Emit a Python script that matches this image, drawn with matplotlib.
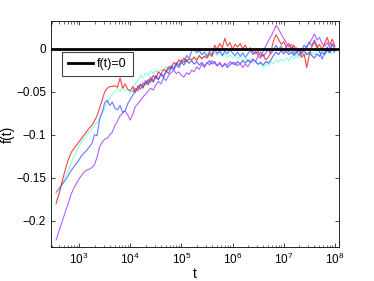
import numpy as np
import matplotlib
matplotlib.use('Agg')
import matplotlib.pyplot as plt

plt.rcParams['font.family'] = ['Liberation Sans', 'DejaVu Sans']
plt.rcParams['mathtext.fontset'] = 'custom'
plt.rcParams['mathtext.rm'] = 'Liberation Sans'

# log10(t) sampling grid, 2.55 .. 8.00 in steps of 0.05
logt = np.round(np.arange(2.55, 8.0001, 0.05), 2)

f_red = [
    -0.180, -0.170, -0.158, -0.147, -0.136, -0.127, -0.120, -0.116, -0.112, -0.108,
    -0.104, -0.100, -0.096, -0.092, -0.089, -0.084, -0.078, -0.069, -0.060, -0.050,
    -0.046, -0.044, -0.044, -0.043, -0.045, -0.034, -0.046, -0.041, -0.047, -0.049,
    -0.044, -0.051, -0.043, -0.047, -0.040, -0.042, -0.036, -0.039, -0.031, -0.035,
    -0.027, -0.030, -0.024, -0.026, -0.021, -0.023, -0.016, -0.019, -0.013, -0.016,
    -0.011, -0.015, -0.012, -0.013, -0.010, -0.014, -0.008, -0.012, -0.009, -0.011,
    -0.006, -0.009, 0.004, -0.001, 0.006, 0.001, 0.012, 0.003, 0.007, -0.001,
    0.005, 0.002, 0.006, 0.000, 0.004, -0.002, 0.001, -0.004, -0.006, -0.003,
    -0.009, -0.007, -0.013, -0.010, -0.004, 0.009, 0.016, 0.011, 0.005, 0.008,
    0.002, 0.006, 0.000, 0.004, -0.003, -0.001, -0.010, -0.006, -0.022, -0.008,
    0.002, 0.008, 0.001, 0.005, -0.001, 0.006, 0.013, 0.004, 0.011, 0.003,
]
f_cyan = [
    -0.177, -0.169, -0.161, -0.153, -0.146, -0.139, -0.132, -0.125, -0.119, -0.113,
    -0.108, -0.104, -0.100, -0.096, -0.093, -0.089, -0.086, -0.081, -0.075, -0.069,
    -0.063, -0.057, -0.053, -0.050, -0.046, -0.050, -0.044, -0.049, -0.047, -0.052,
    -0.046, -0.041, -0.037, -0.031, -0.034, -0.028, -0.031, -0.026, -0.029, -0.025,
    -0.028, -0.024, -0.026, -0.021, -0.024, -0.019, -0.022, -0.017, -0.020, -0.015,
    -0.012, -0.016, -0.010, -0.013, -0.009, -0.012, -0.008, -0.011, -0.007, -0.010,
    -0.006, -0.009, -0.005, -0.008, -0.004, -0.009, -0.006, -0.010, -0.007, -0.011,
    -0.008, -0.012, -0.009, -0.014, -0.011, -0.015, -0.012, -0.017, -0.014, -0.019,
    -0.016, -0.022, -0.018, -0.020, -0.015, -0.018, -0.013, -0.016, -0.012, -0.015,
    -0.011, -0.014, -0.009, -0.012, -0.008, -0.011, -0.007, -0.010, -0.005, -0.008,
    -0.004, -0.007, -0.002, -0.005, -0.001, -0.004, 0.000, -0.003, -0.006, -0.003,
]
f_blue = [
    -0.167, -0.163, -0.159, -0.155, -0.151, -0.146, -0.141, -0.137, -0.133, -0.129,
    -0.124, -0.121, -0.118, -0.114, -0.110, -0.100, -0.101, -0.082, -0.074, -0.063,
    -0.060, -0.066, -0.062, -0.069, -0.071, -0.066, -0.074, -0.072, -0.064, -0.059,
    -0.054, -0.049, -0.045, -0.041, -0.046, -0.037, -0.040, -0.033, -0.038, -0.031,
    -0.036, -0.030, -0.034, -0.027, -0.024, -0.020, -0.023, -0.016, -0.019, -0.013,
    -0.016, -0.008, -0.011, -0.003, 0.000, -0.005, -0.002, -0.007, -0.004, -0.009,
    -0.003, -0.007, -0.001, -0.006, -0.002, -0.008, -0.003, -0.006, -0.001, -0.005,
    -0.008, -0.004, -0.009, -0.005, -0.010, -0.006, -0.002, -0.007, -0.003, -0.008,
    -0.004, -0.009, -0.005, -0.001, -0.006, -0.002, 0.004, -0.001, 0.003, -0.003,
    0.002, -0.004, 0.001, -0.006, -0.002, -0.008, -0.003, 0.004, 0.001, 0.008,
    0.003, 0.010, 0.004, -0.003, -0.012, -0.006, 0.002, -0.004, 0.006, -0.002,
]
f_blue2 = [
    np.nan, np.nan, np.nan, np.nan, np.nan, np.nan, np.nan, np.nan, np.nan, np.nan,
    np.nan, np.nan, np.nan, np.nan, np.nan, np.nan, np.nan, np.nan, np.nan, np.nan,
    np.nan, np.nan, np.nan, np.nan, np.nan, np.nan, np.nan, np.nan, np.nan, np.nan,
    -0.050, -0.046, -0.049, -0.042, -0.045, -0.038, -0.042, -0.035, -0.039, -0.032,
    -0.036, -0.029, -0.032, -0.026, -0.029, -0.022, -0.025, -0.019, -0.022, -0.016,
    -0.019, -0.013, -0.017, -0.014, -0.018, -0.015, -0.019, -0.016, -0.020, -0.017,
    -0.014, -0.018, -0.015, -0.020, -0.017, -0.021, -0.018, -0.022, -0.019, -0.016,
    -0.019, -0.015, -0.018, -0.014, -0.017, -0.013, -0.016, -0.012, -0.015, -0.018,
    -0.016, -0.019, -0.015, -0.017, -0.013, -0.008, -0.004, -0.007, -0.002, -0.006,
    -0.003, -0.007, -0.004, -0.008, -0.005, -0.001, -0.006, -0.002, -0.007, -0.004,
    -0.008, -0.011, -0.006, -0.009, -0.004, -0.007, -0.002, -0.005, 0.000, -0.004,
]
f_purple = [
    -0.222, -0.213, -0.204, -0.195, -0.186, -0.177, -0.168, -0.162, -0.156, -0.151,
    -0.147, -0.143, -0.141, -0.140, -0.138, -0.135, -0.126, -0.114, -0.109, -0.105,
    -0.104, -0.100, -0.097, -0.089, -0.084, -0.078, -0.075, -0.072, -0.077, -0.083,
    -0.076, -0.067, -0.064, -0.060, -0.056, -0.053, -0.049, -0.046, -0.048, -0.042,
    -0.038, -0.041, -0.034, -0.037, -0.031, -0.028, -0.025, -0.029, -0.027, -0.031,
    -0.033, -0.028, -0.030, -0.025, -0.027, -0.021, -0.024, -0.018, -0.022, -0.016,
    -0.019, -0.014, -0.017, -0.020, -0.016, -0.021, -0.017, -0.019, -0.015, -0.018,
    -0.016, -0.020, -0.017, -0.022, -0.018, -0.021, -0.016, -0.013, -0.015, -0.009,
    -0.011, -0.003, 0.003, 0.009, 0.014, 0.020, 0.027, 0.023, 0.017, 0.012,
    0.007, 0.002, 0.005, -0.001, 0.001, -0.003, 0.000, -0.002, 0.003, 0.006,
    0.011, 0.017, 0.010, 0.013, 0.006, 0.003, 0.007, 0.001, 0.005, 0.002,
]

yticks = [-0.2, -0.15, -0.1, -0.05, 0]
ytick_labels = ['\u22120.2', '\u22120.15', '\u22120.1', '\u22120.05', '0']

t = 10 ** logt

fig = plt.figure(figsize=(3.74, 2.81), dpi=100)
ax = fig.add_axes([0.136, 0.122, 0.770, 0.803])

# 曲线
ax.plot(t, f_cyan, color='#77ffdd', lw=0.8, alpha=0.85)
ax.plot(t, f_blue2, color='#3344ee', lw=0.8, alpha=0.8)
ax.plot(t, f_purple, color='#aa44ff', lw=0.8, alpha=0.85)
ax.plot(t, f_blue, color='#4466ff', lw=0.8, alpha=0.85)
ax.plot(t, f_red, color='#ff2222', lw=0.8, alpha=0.85)
line0 = ax.axhline(0, color='black', lw=2, label='f(t)=0')

ax.set_xscale('log')
ax.set_xlim(280, 1.2e8)
ax.set_ylim(-0.23, 0.032)
ax.set_yticks(yticks)
ax.set_yticklabels(ytick_labels)
ax.set_xticks([1e3, 1e4, 1e5, 1e6, 1e7, 1e8])

ax.tick_params(which='both', direction='in', top=True, right=True, labelsize=8.5)
ax.tick_params(which='major', length=3, width=0.5)
ax.tick_params(which='minor', length=1.8, width=0.4)
for s in ax.spines.values():
    s.set_linewidth(0.6)

ax.set_xlabel('t', fontsize=10, labelpad=0)
ax.set_ylabel('f(t)', fontsize=10)
ax.yaxis.set_label_coords(-0.125, 0.5)

leg = ax.legend(handles=[line0], loc='upper left', bbox_to_anchor=(0.038, 0.863),
                borderaxespad=0, fontsize=9, fancybox=False, framealpha=1,
                edgecolor='#444444', handlelength=2.0, handletextpad=0.3,
                borderpad=0.5)
leg.get_frame().set_linewidth(0.8)

fig.savefig('out.png', dpi=100)
